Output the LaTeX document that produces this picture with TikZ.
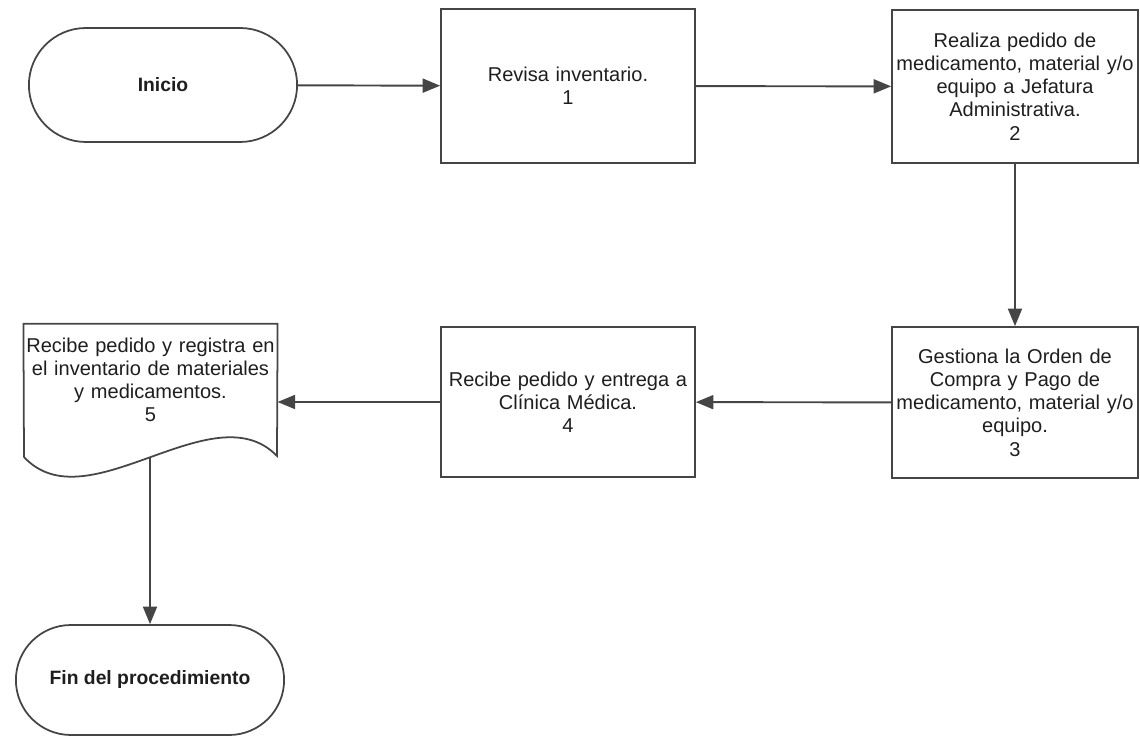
\documentclass[tikz,border=0pt]{standalone}
\usepackage{fontspec}
\setmainfont{Liberation Sans}
\usetikzlibrary{arrows.meta, shapes.misc}
\definecolor{lineagray}{HTML}{454545}
\definecolor{textogray}{HTML}{1E1E1E}

\begin{document}
\begin{tikzpicture}[x=0.02cm, y=-0.02cm,
    font=\fontsize{11.4}{13.2}\selectfont, text=textogray,
    terminal/.style={rounded rectangle, draw=lineagray, line width=1pt,
      minimum width=5.6cm, font=\fontsize{11}{12.8}\selectfont\bfseries},
    proceso/.style={rectangle, draw=lineagray, line width=1pt, align=center,
      text width=4.8cm, inner sep=1pt},
    flecha/.style={draw=lineagray, line width=1.1pt,
      -{Triangle[length=10pt, width=8pt]}}]
  \useasboundingbox (0,0) rectangle (1140,736);

  % --- Top row: inicio, revisa, realiza pedido ---
  \node[terminal, minimum height=2.28cm] (inicio) at (163,85) {Inicio};
  \node[proceso, minimum width=5.08cm, minimum height=3.08cm] (p1) at (568,86)
    {Revisa inventario.\\1};
  \node[proceso, minimum width=4.92cm, minimum height=3.06cm] (p2) at (1015,86.5)
    {Realiza pedido de\\medicamento, material y/o\\equipo a Jefatura\\Administrativa.\\2};

  % --- Bottom row: right to left ---
  \node[proceso, minimum width=4.92cm, minimum height=3.02cm] (p3) at (1015,402.5)
    {Gestiona la Orden de\\Compra y Pago de\\medicamento, material y/o\\equipo.\\3};
  \node[proceso, minimum width=5.08cm, minimum height=3.0cm] (p4) at (568,402)
    {Recibe pedido y entrega a\\Cl\'{\i}nica M\'edica.\\4};

  % document shape (wavy bottom)
  \node[rectangle, minimum width=5.06cm, minimum height=2.24cm, align=center,
    text width=5cm, inner sep=1pt] (p5) at (150.5,380)
    {Recibe pedido y registra en\\el inventario de materiales\\y medicamentos.\\5};
  \draw[lineagray, line width=1pt] (p5.north west) -- (p5.north east) -- (277,456)
    .. controls (213,390) and (87,525) .. (24,457) -- cycle;
  \coordinate (p5b) at (150,458);

  \node[terminal, minimum height=2.2cm] (fin) at (150,680) {Fin del procedimiento};

  % connectors
  \draw[flecha] (inicio) -- (p1);
  \draw[flecha] (p1) -- (p2);
  \draw[flecha] (p2) -- (p3);
  \draw[flecha] (p3) -- (p4);
  \draw[flecha] (p4.west) -- (p4.west -| p5.east);
  \draw[flecha] (p5b) -- (fin);
\end{tikzpicture}
\end{document}
